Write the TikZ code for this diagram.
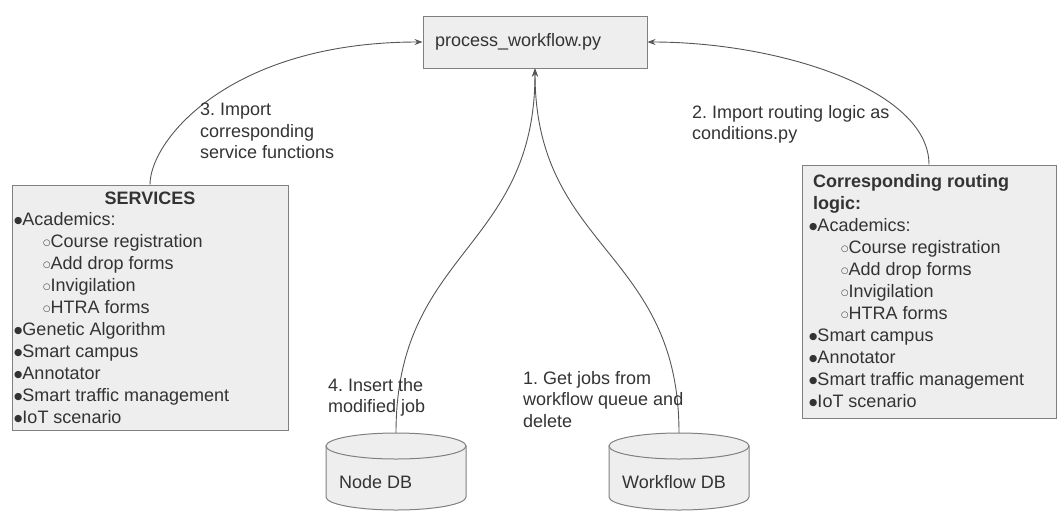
\documentclass[tikz,border=0pt]{standalone}
\usepackage{fontspec}
\setmainfont{Liberation Sans}
\newfontfamily\symfont{DejaVu Sans}
\usetikzlibrary{arrows.meta}
\definecolor{boxfill}{HTML}{EEEEEE}
\definecolor{boxline}{HTML}{808080}
\definecolor{wirecol}{HTML}{555555}
\definecolor{txt}{HTML}{333333}
\newcommand\bulx{\raisebox{1.2pt}{\symfont\fontsize{9.5}{9.5}\selectfont ●}}
\newcommand\subx{\raisebox{1.2pt}{\symfont\fontsize{8.5}{8.5}\selectfont ○}}
\frenchspacing
\begin{document}
\frenchspacing
\begin{tikzpicture}[x=1pt,y=-1pt,
  box/.style={draw=boxline, fill=boxfill, line width=1pt, inner sep=0pt},
  lbl/.style={text=txt, font=\fontsize{18}{21.5}\selectfont\frenchspacing, inner sep=0pt, align=left, anchor=north west},
  item/.style={text=txt, font=\fontsize{18}{22}\selectfont, inner sep=0pt, anchor=base west},
  head/.style={text=txt, font=\fontsize{18}{22}\selectfont\bfseries, inner sep=0pt},
  wire/.style={draw=wirecol, line width=0.9pt, -{Stealth[length=8pt,width=6pt]}},
  cyl/.style={draw=boxline, fill=boxfill, line width=1pt}]
\useasboundingbox (0,0) rectangle (1060,512);

% top box
\node[box, minimum width=224pt, minimum height=52pt, text width=200pt, align=left,
      text=txt, font=\fontsize{18}{22}\selectfont] (pw) at (535,42) {process\_workflow.py};

% services box
\node[box, minimum width=276pt, minimum height=245pt] (svc) at (150,307.5) {};
\node[head, anchor=base] (svch) at (150,204.5) {SERVICES};
\foreach \t/\ind [count=\i from 0] in {Academics:/0, Course registration/1, Add drop forms/1, Invigilation/1, HTRA forms/1, Genetic Algorithm/0, Smart campus/0, Annotator/0, Smart traffic management/0, IoT scenario/0}
  \node[item] (s\i) at (14+29*\ind, 225+22*\i) {\ifnum\ind=0 \bulx\else\subx\fi\t};

% routing logic box
\node[box, minimum width=254pt, minimum height=253pt] (rtl) at (929,291.5) {};
\node[head, anchor=base west] (rtlh1) at (813,187) {Corresponding routing};
\node[head, anchor=base west] (rtlh2) at (813,209) {logic:};
\foreach \t/\ind [count=\i from 0] in {Academics:/0, Course registration/1, Add drop forms/1, Invigilation/1, HTRA forms/1, Smart campus/0, Annotator/0, Smart traffic management/0, IoT scenario/0}
  \node[item] (r\i) at (809+32*\ind, 231+22*\i) {\ifnum\ind=0 \bulx\else\subx\fi\t};

% cylinders
\path[cyl] (326,446) -- (326,497) arc[start angle=180, end angle=360, x radius=70pt, y radius=13pt] -- (466,446) -- cycle;
\path[cyl] (396,446) ellipse [x radius=70pt, y radius=13pt];
\node[minimum width=140pt, minimum height=77pt, inner sep=0pt] (ndb) at (396,471.5) {};
\node[item] (ndbt) at (339,488.5) {Node DB};

\path[cyl] (609,446) -- (609,497) arc[start angle=180, end angle=360, x radius=70pt, y radius=13pt] -- (749,446) -- cycle;
\path[cyl] (679,446) ellipse [x radius=70pt, y radius=13pt];
\node[minimum width=140pt, minimum height=77pt, inner sep=0pt] (wdb) at (679,471.5) {};
\node[item] (wdbt) at (622,488.5) {Workflow DB};

% connectors
\draw[wire] (ndb.north) .. controls (396,250) and (535,250) .. (pw.south);
\draw[wire] (wdb.north) .. controls (679,250) and (535,250) .. (pw.south);
\draw[wire] (svc.north) .. controls (150,140) and (230,42) .. (pw.west);
\draw[wire] (rtl.north) .. controls (929,90) and (780,42) .. (pw.east);

% labels
\node[lbl] (l3) at (200,103) {3. Import\\corresponding\\service functions};
\node[lbl] (l2) at (692,105) {2. Import routing logic as\\conditions.py};
\node[lbl] (l4) at (328,378) {4. Insert the\\modified job};
\node[lbl] (l1) at (523,371) {1. Get jobs from\\workflow queue and\\delete};
\end{tikzpicture}
\end{document}
